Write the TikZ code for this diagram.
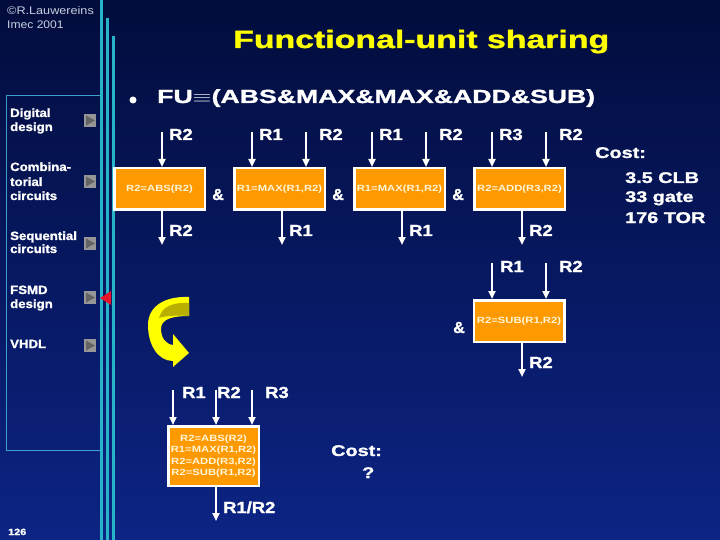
\documentclass[tikz,border=0pt]{standalone}
\usepackage{fontspec}
\setmainfont{Liberation Sans}
\newfontfamily\hv[FakeBold=1.2]{Liberation Sans Bold}
\usetikzlibrary{arrows.meta}
\definecolor{bgtop}{RGB}{2,12,60}
\definecolor{bgbot}{RGB}{12,36,132}
\definecolor{cyanline}{RGB}{40,180,200}
\definecolor{panelc}{RGB}{60,160,200}
\definecolor{boxorange}{RGB}{255,153,0}
\definecolor{boxtext}{RGB}{255,245,215}
\definecolor{ttl}{RGB}{255,255,0}
\definecolor{copyc}{RGB}{200,208,225}
\definecolor{arrowyellow}{RGB}{255,255,0}
\definecolor{arrowdark}{RGB}{185,175,0}
\definecolor{btnlight}{RGB}{150,150,150}
\definecolor{btndark}{RGB}{100,100,100}
\definecolor{redtri}{RGB}{230,20,40}
\newcommand{\sx}[2]{\scalebox{#1}[1]{#2}}
\newcommand{\bt}[1]{\sx{1.25}{#1}}
\begin{document}
\begin{tikzpicture}[x=1pt,y=-1pt,
  lab/.style={font=\fontsize{16}{16}\selectfont\hv, text=white, inner sep=0, anchor=base west},
  menu/.style={font=\fontsize{12}{14}\selectfont\hv, text=white, inner sep=0, anchor=base west},
  cost/.style={font=\fontsize{15.5}{16}\selectfont\hv, text=white, inner sep=0, anchor=base west},
  fubox/.style={rectangle, fill=boxorange, draw=white, line width=2.5pt, minimum width=90.5pt, minimum height=41.5pt, inner sep=0, text=boxtext, font=\fontsize{9}{12}\selectfont\bfseries, align=center},
  arr/.style={white, line width=2pt, -{Triangle[length=8pt,width=7pt]}},
  vline/.style={cyanline, line width=2.5pt},
  btnsq/.style={fill=btnlight},
  btntri/.style={fill=btndark}
]
\useasboundingbox (0,0) rectangle (720,540);
\shade[top color=bgtop, bottom color=bgbot] (0,0) rectangle (720,540);

% left panel
\draw[panelc, line width=1pt] (6.5,96) rectangle (101,450);
\draw[vline] (101.5,0) -- (101.5,540);
\draw[vline] (107.5,18) -- (107.5,540);
\draw[vline] (113.5,36) -- (113.5,540);

\node[inner sep=0, anchor=base west, text=copyc, font=\fontsize{11}{11}\selectfont] (copy1) at (7,15) {\sx{1.15}{©R.Lauwereins}};
\node[inner sep=0, anchor=base west, text=copyc, font=\fontsize{11}{11}\selectfont] (copy2) at (7,29) {\sx{1.1}{Imec 2001}};

\node[menu] (m1a) at (10,117) {\sx{1.1}{Digital}};
\node[menu] (m1b) at (10,131) {\sx{1.1}{design}};
\node[menu] (m2a) at (10,171) {\sx{1.1}{Combina-}};
\node[menu] (m2b) at (10,186) {\sx{1.1}{torial}};
\node[menu] (m2c) at (10,200) {\sx{1.1}{circuits}};
\node[menu] (m3a) at (10,240) {\sx{1.1}{Sequential}};
\node[menu] (m3b) at (10,253) {\sx{1.1}{circuits}};
\node[menu] (m4a) at (10,294) {\sx{1.1}{FSMD}};
\node[menu] (m4b) at (10,308) {\sx{1.1}{design}};
\node[menu] (m5a) at (10,348) {\sx{1.1}{VHDL}};

\foreach \yy in {114,175,237,291,339}{
  \fill[btnsq] (84,\yy) rectangle (96,\yy+13);
  \fill[btntri] (86,\yy+1.5) -- (95,\yy+6.5) -- (86,\yy+11.5) -- cycle;
}
\fill[redtri] (100,298) -- (111,291) -- (111,305) -- cycle;

\node[inner sep=0, anchor=base west, font=\fontsize{9}{9}\selectfont\hv, text=white] (pg) at (8,535) {\sx{1.2}{126}};

% title
\node[inner sep=0, anchor=base west, text=ttl] (title) at (233,48) {\resizebox{376pt}{\height}{\fontsize{25}{25}\selectfont\hv Functional-unit sharing}};

% bullet line
\fill[white] (133,100) circle (3.5);
\node[inner sep=0, anchor=base west, text=white] (fu) at (157,103) {\resizebox{438pt}{\height}{\fontsize{19}{19}\selectfont\hv FU$\equiv$(ABS\&MAX\&MAX\&ADD\&SUB)}};

% top row boxes
\node[fubox] (b1) at (159.5,189) {\bt{R2=ABS(R2)}};
\node[fubox] (b2) at (279.5,189) {\bt{R1=MAX(R1,R2)}};
\node[fubox] (b3) at (399.5,189) {\bt{R1=MAX(R1,R2)}};
\node[fubox] (b4) at (519.5,189) {\bt{R2=ADD(R3,R2)}};
\node[fubox] (b5) at (519,321) {\bt{R2=SUB(R1,R2)}};

% inputs/outputs top row
\coordinate (i1) at (162,132);
\coordinate (i2a) at (252,132); \coordinate (i2b) at (306,132);
\coordinate (i3a) at (372,132); \coordinate (i3b) at (426,132);
\coordinate (i4a) at (492,132); \coordinate (i4b) at (546,132);
\coordinate (o1) at (162,245); \coordinate (o2) at (282,245);
\coordinate (o3) at (402,245); \coordinate (o4) at (522,245);
\coordinate (i5a) at (492,263); \coordinate (i5b) at (546,263);
\coordinate (o5) at (522,377);

\draw[arr] (i1) -- (i1 |- b1.north);
\draw[arr] (i2a) -- (i2a |- b2.north);
\draw[arr] (i2b) -- (i2b |- b2.north);
\draw[arr] (i3a) -- (i3a |- b3.north);
\draw[arr] (i3b) -- (i3b |- b3.north);
\draw[arr] (i4a) -- (i4a |- b4.north);
\draw[arr] (i4b) -- (i4b |- b4.north);
\draw[arr] (o1 |- b1.south) -- (o1);
\draw[arr] (o2 |- b2.south) -- (o2);
\draw[arr] (o3 |- b3.south) -- (o3);
\draw[arr] (o4 |- b4.south) -- (o4);
\draw[arr] (i5a) -- (i5a |- b5.north);
\draw[arr] (i5b) -- (i5b |- b5.north);
\draw[arr] (o5 |- b5.south) -- (o5);

\node[lab] (l1) at (169,140) {\sx{1.15}{R2}};
\node[lab] (l2) at (259,140) {\sx{1.15}{R1}};
\node[lab] (l3) at (319,140) {\sx{1.15}{R2}};
\node[lab] (l4) at (379,140) {\sx{1.15}{R1}};
\node[lab] (l5) at (439,140) {\sx{1.15}{R2}};
\node[lab] (l6) at (499,140) {\sx{1.15}{R3}};
\node[lab] (l7) at (559,140) {\sx{1.15}{R2}};
\node[lab] (l8) at (169,236) {\sx{1.15}{R2}};
\node[lab] (l9) at (289,236) {\sx{1.15}{R1}};
\node[lab] (l10) at (409,236) {\sx{1.15}{R1}};
\node[lab] (l11) at (529,236) {\sx{1.15}{R2}};
\node[lab] (l12) at (500,272) {\sx{1.15}{R1}};
\node[lab] (l13) at (559,272) {\sx{1.15}{R2}};
\node[lab] (l14) at (529,368) {\sx{1.15}{R2}};

\node[lab] (amp1) at (212,200) {\&};
\node[lab] (amp2) at (332,200) {\&};
\node[lab] (amp3) at (452,200) {\&};
\node[lab] (amp4) at (453,333) {\&};

% right cost
\node[cost] (c1) at (595,158) {\sx{1.28}{Cost:}};
\node[cost] (c2) at (625,183) {\sx{1.28}{3.5 CLB}};
\node[cost] (c3) at (625,202) {\sx{1.28}{33 gate}};
\node[cost] (c4) at (625,223) {\sx{1.28}{176 TOR}};

% yellow curved arrow
\fill[arrowyellow] (189,297) .. controls (165,296) and (148,306) .. (148,325)
  .. controls (148,345) and (158,361) .. (173,361) -- (173,367) -- (189,353) -- (173,334) -- (173,345)
  .. controls (165,344) and (161,337) .. (161,329) .. controls (161,320) and (170,316) .. (189,316) -- cycle;
\fill[arrowdark] (189,303) .. controls (172,302) and (162,307) .. (159,318)
  .. controls (165,316) and (175,315) .. (189,316) -- cycle;

% big box
\node[fubox, minimum height=59.5pt] (bb) at (213.5,456) {\bt{R2=ABS(R2)}\\[-0.5pt]\bt{R1=MAX(R1,R2)}\\[-0.5pt]\bt{R2=ADD(R3,R2)}\\[-0.5pt]\bt{R2=SUB(R1,R2)}};
\coordinate (bi1) at (173,390); \coordinate (bi2) at (216,390); \coordinate (bi3) at (252,390);
\coordinate (bo) at (216,521);
\draw[arr] (bi1) -- (bi1 |- bb.north);
\draw[arr] (bi2) -- (bi2 |- bb.north);
\draw[arr] (bi3) -- (bi3 |- bb.north);
\draw[arr] (bo |- bb.south) -- (bo);
\node[lab] (bl1) at (182,398) {\sx{1.15}{R1}};
\node[lab] (bl2) at (217,398) {\sx{1.15}{R2}};
\node[lab] (bl3) at (265,398) {\sx{1.15}{R3}};
\node[lab] (bl4) at (223,513) {\sx{1.15}{R1/R2}};

\node[cost] (cq1) at (331,456) {\sx{1.28}{Cost:}};
\node[cost] (cq2) at (362,478) {\sx{1.28}{?}};
\end{tikzpicture}
\end{document}
